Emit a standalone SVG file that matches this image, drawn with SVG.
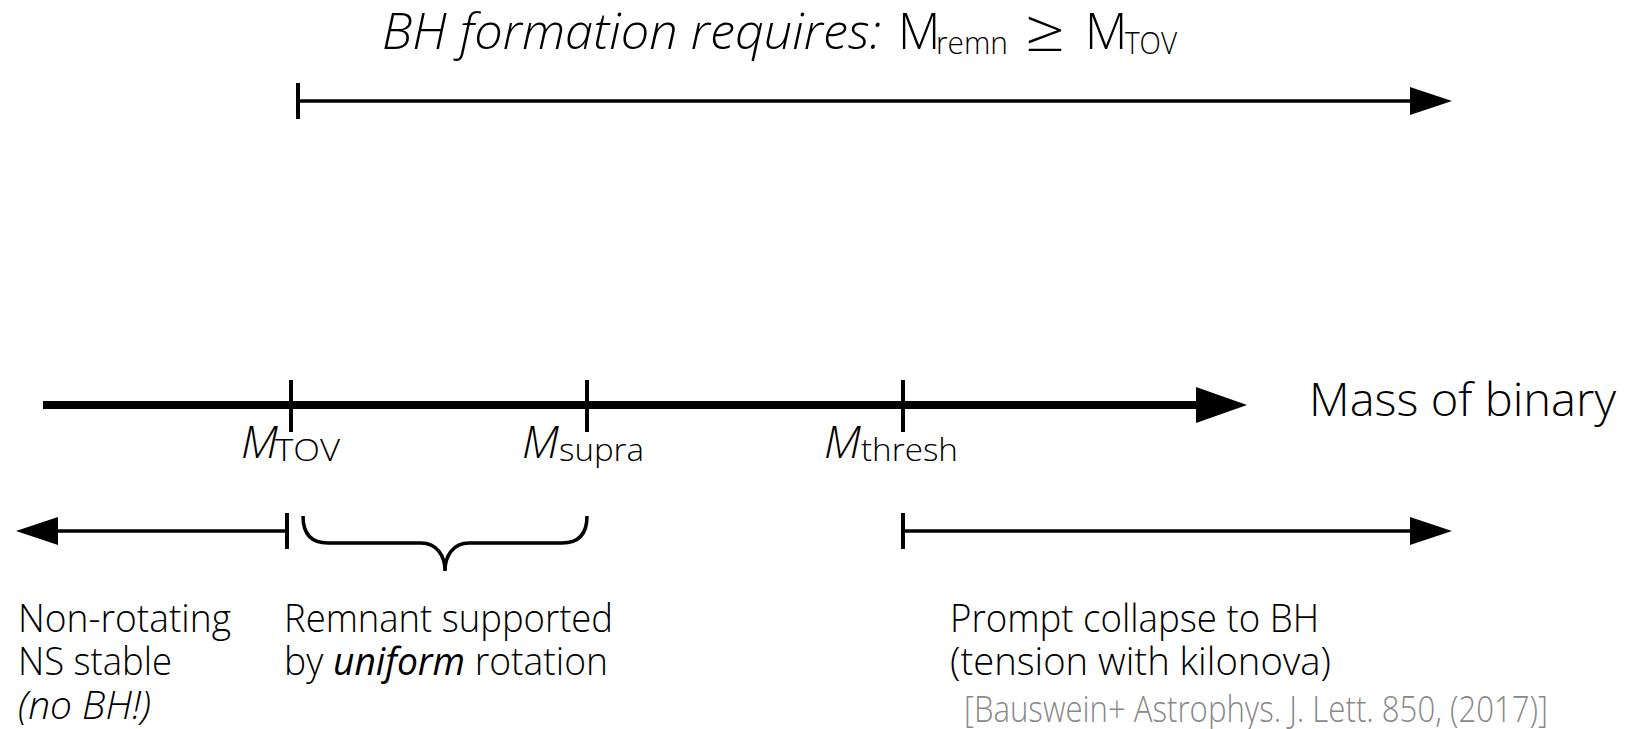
<svg xmlns="http://www.w3.org/2000/svg" width="1629" height="729" viewBox="0 0 1629 729">
  <style>
    text { font-family: "Open Sans", "Liberation Sans", sans-serif; font-weight: 300; fill: #000; }
    .it { font-style: italic; }
    .body { font-size: 39px; }
    .mlab { font-size: 45px; font-style: italic; }
    .sub { font-size: 31px; }
    .cite { font-size: 36px; fill: #888; }
    .line { stroke: #000; stroke-width: 3.5; fill: none; }
    .tick { stroke: #000; stroke-width: 4; fill: none; }
    .axis { stroke: #000; stroke-width: 8; fill: none; }
    .head { fill: #000; stroke: none; }
  </style>
  <rect width="1629" height="729" fill="#fff"/>

  <!-- heading -->
  <g id="title">
    <text class="it" x="382" y="49" font-size="49" textLength="499" lengthAdjust="spacingAndGlyphs">BH formation requires:</text>
    <text x="898" y="49" font-size="49">M</text>
    <text class="sub" x="936" y="54" textLength="72" lengthAdjust="spacingAndGlyphs">remn</text>
    <text x="1025" y="51" font-size="58" textLength="40" lengthAdjust="spacingAndGlyphs">≥</text>
    <text x="1085" y="49" font-size="49">M</text>
    <text class="sub" x="1125" y="54" textLength="52" lengthAdjust="spacingAndGlyphs">TOV</text>
  </g>

  <!-- mass axis with markers -->
  <g id="mass-axis">
    <line class="axis" x1="43" y1="405" x2="1200" y2="405"/>
    <polygon class="head" points="1196,387 1247,405 1196,423"/>
    <text x="1309" y="416" font-size="46" textLength="307" lengthAdjust="spacingAndGlyphs">Mass of binary</text>
  </g>

  <g id="tick-tov">
    <line class="tick" x1="291" y1="380" x2="291" y2="432"/>
    <text class="mlab" x="241" y="458">M</text>
    <text class="sub" x="275" y="461" textLength="65" lengthAdjust="spacingAndGlyphs">TOV</text>
  </g>
  <g id="tick-supra">
    <line class="tick" x1="587" y1="380" x2="587" y2="432"/>
    <text class="mlab" x="522" y="458">M</text>
    <text class="sub" x="559" y="461" textLength="85" lengthAdjust="spacingAndGlyphs">supra</text>
  </g>
  <g id="tick-thresh">
    <line class="tick" x1="903" y1="380" x2="903" y2="432"/>
    <text class="mlab" x="824" y="458">M</text>
    <text class="sub" x="861" y="461" textLength="97" lengthAdjust="spacingAndGlyphs">thresh</text>
  </g>

  <!-- range arrows and brace -->
  <g id="connectors">
    <!-- BH formation range -->
    <line class="tick" x1="298" y1="83" x2="298" y2="119"/>
    <line class="line" x1="298" y1="101" x2="1414" y2="101"/>
    <polygon class="head" points="1410,87 1452,101 1410,115"/>

    <!-- stable NS range -->
    <line class="tick" x1="287" y1="513" x2="287" y2="549"/>
    <line class="line" x1="287" y1="531" x2="54" y2="531"/>
    <polygon class="head" points="58,517 16,531 58,545"/>

    <!-- uniform rotation range -->
    <path class="line" d="M303,516 C303,532 310,543 328,543 L421,543 C437,543 445,556 445,571 C445,556 453,543 469,543 L562,543 C580,543 587,532 587,516"/>

    <!-- prompt collapse range -->
    <line class="tick" x1="903" y1="513" x2="903" y2="549"/>
    <line class="line" x1="903" y1="531" x2="1414" y2="531"/>
    <polygon class="head" points="1410,517 1452,531 1410,545"/>
  </g>

  <!-- descriptions -->
  <g id="label-stable">
    <text class="body" x="18" y="632" textLength="213" lengthAdjust="spacingAndGlyphs">Non-rotating</text>
    <text class="body" x="18" y="675" textLength="154" lengthAdjust="spacingAndGlyphs">NS stable</text>
    <text class="body it" x="18" y="719" textLength="133" lengthAdjust="spacingAndGlyphs">(no BH!)</text>
  </g>
  <g id="label-uniform">
    <text class="body" x="284" y="632" textLength="329" lengthAdjust="spacingAndGlyphs">Remnant supported</text>
    <text class="body" x="284" y="675" textLength="324" lengthAdjust="spacingAndGlyphs">by <tspan class="it" font-weight="400">uniform</tspan> rotation</text>
  </g>
  <g id="label-prompt">
    <text class="body" x="950" y="632" textLength="369" lengthAdjust="spacingAndGlyphs">Prompt collapse to BH</text>
    <text class="body" x="950" y="675" textLength="381" lengthAdjust="spacingAndGlyphs">(tension with kilonova)</text>
    <text class="cite" x="964" y="722" textLength="584" lengthAdjust="spacingAndGlyphs">[Bauswein+ Astrophys. J. Lett. 850, (2017)]</text>
  </g>
</svg>
